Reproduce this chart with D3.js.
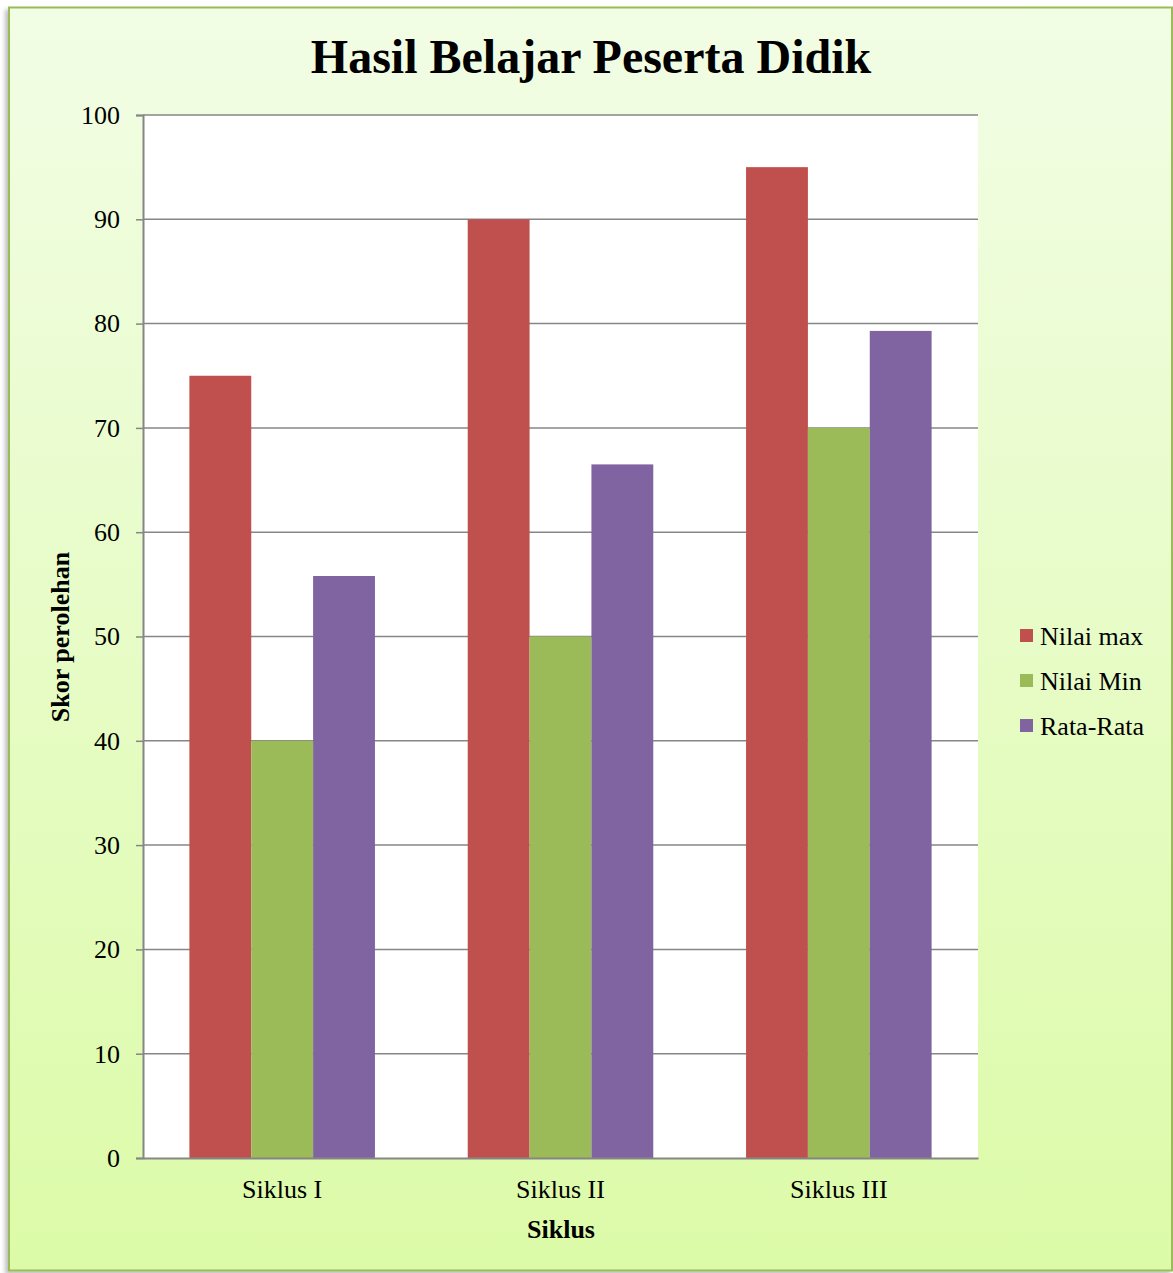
<!DOCTYPE html>
<html>
<head>
<meta charset="utf-8">
<script src="https://cdn.jsdelivr.net/npm/d3@7"></script>
<style>
  body { margin: 0; background: #fff; }
  svg { display: block; font-family: "Liberation Serif", "Times New Roman", serif; }
</style>
</head>
<body>
<div id="chart"></div>
<script>
// data
var categories = ["Siklus I", "Siklus II", "Siklus III"];
var seriesNames = ["Nilai max", "Nilai Min", "Rata-Rata"];
var nilaiMax = [75, 90, 95];
var nilaiMin = [40, 50, 70];
var rataRata = [55.8, 66.5, 79.3];
var yTicks = [0, 10, 20, 30, 40, 50, 60, 70, 80, 90, 100];
var colors = ["#c0504d", "#9bbb59", "#8064a2"];

var W = 1173, H = 1273;
var plot = { left: 143, top: 115, right: 978, bottom: 1158 };
var fontFam = "Liberation Serif, Times New Roman, serif";

var svg = d3.select("#chart").append("svg")
    .attr("width", W)
    .attr("height", H);

var defs = svg.append("defs");
var grad = defs.append("linearGradient")
    .attr("id", "bg")
    .attr("x1", 0).attr("y1", 0).attr("x2", 0).attr("y2", 1);
grad.append("stop").attr("offset", "0%").attr("stop-color", "#f2fde5");
grad.append("stop").attr("offset", "100%").attr("stop-color", "#dcfba8");

var shadow = defs.append("filter").attr("id", "shadow")
    .attr("x", "-5%").attr("y", "-5%").attr("width", "110%").attr("height", "110%");
shadow.append("feDropShadow")
    .attr("dx", -3).attr("dy", 3).attr("stdDeviation", 2)
    .attr("flood-color", "#000").attr("flood-opacity", 0.25);

// chart frame
svg.append("rect")
    .attr("x", 9).attr("y", 7.5)
    .attr("width", 1163).attr("height", 1263)
    .attr("fill", "url(#bg)")
    .attr("stroke", "#9bbb59")
    .attr("stroke-width", 2)
    .attr("filter", "url(#shadow)");

// plot area
svg.append("rect")
    .attr("x", plot.left).attr("y", plot.top)
    .attr("width", plot.right - plot.left)
    .attr("height", plot.bottom - plot.top)
    .attr("fill", "#fff");

var x0 = d3.scaleBand()
    .domain(categories)
    .range([plot.left, plot.right])
    .padding(0);

// gap width 150% of a bar -> 0.75 bar on each side
var x1 = d3.scaleBand()
    .domain(seriesNames)
    .range([0, x0.bandwidth()])
    .paddingInner(0)
    .paddingOuter(0.75);

var y = d3.scaleLinear()
    .domain([0, 100])
    .range([plot.bottom, plot.top]);

// gridlines
svg.append("g")
    .selectAll("line")
    .data(yTicks.filter(function(d) { return d > 0; }))
    .enter().append("line")
    .attr("x1", plot.left).attr("x2", plot.right)
    .attr("y1", function(d) { return y(d); })
    .attr("y2", function(d) { return y(d); })
    .attr("stroke", "#868686")
    .attr("stroke-width", 1.5);

// bars
var values = [nilaiMax, nilaiMin, rataRata];
var rows = [];
categories.forEach(function(c, i) {
    seriesNames.forEach(function(s, j) {
        rows.push({ cat: c, series: s, value: values[j][i], color: colors[j] });
    });
});

svg.append("g")
    .selectAll("rect")
    .data(rows)
    .enter().append("rect")
    .attr("x", function(d) { return x0(d.cat) + x1(d.series); })
    .attr("y", function(d) { return y(d.value); })
    .attr("width", x1.bandwidth())
    .attr("height", function(d) { return plot.bottom - y(d.value); })
    .attr("fill", function(d) { return d.color; });

// y axis
var yAxis = svg.append("g")
    .attr("transform", "translate(" + plot.left + ",0)")
    .call(d3.axisLeft(y).tickValues(yTicks).tickSize(7).tickPadding(16));
yAxis.select(".domain").attr("stroke", "#868686").attr("stroke-width", 2);
yAxis.selectAll(".tick line").attr("stroke", "#868686").attr("stroke-width", 1.5);
yAxis.selectAll("text")
    .attr("font-family", fontFam)
    .attr("font-size", 26)
    .attr("fill", "#000");

// x axis
var xAxis = svg.append("g")
    .attr("transform", "translate(0," + plot.bottom + ")")
    .call(d3.axisBottom(x0).tickSize(0).tickPadding(22));
xAxis.select(".domain").attr("stroke", "#868686").attr("stroke-width", 2);
xAxis.selectAll("text")
    .attr("font-family", fontFam)
    .attr("font-size", 26)
    .attr("fill", "#000");

// titles
svg.append("text")
    .attr("x", 591).attr("y", 73)
    .attr("text-anchor", "middle")
    .attr("font-size", 48)
    .attr("font-weight", "bold")
    .text("Hasil Belajar Peserta Didik");

svg.append("text")
    .attr("x", 561).attr("y", 1238)
    .attr("text-anchor", "middle")
    .attr("font-size", 26)
    .attr("font-weight", "bold")
    .text("Siklus");

svg.append("text")
    .attr("transform", "translate(69,637) rotate(-90)")
    .attr("text-anchor", "middle")
    .attr("font-size", 26)
    .attr("font-weight", "bold")
    .text("Skor perolehan");

// legend
var legend = svg.append("g")
    .selectAll("g")
    .data(seriesNames)
    .enter().append("g")
    .attr("transform", function(d, i) { return "translate(1020," + (636 + i * 45) + ")"; });
legend.append("rect")
    .attr("x", 0).attr("y", -7)
    .attr("width", 13).attr("height", 13)
    .attr("fill", function(d, i) { return colors[i]; });
legend.append("text")
    .attr("x", 20).attr("y", 9)
    .attr("font-size", 26)
    .text(function(d) { return d; });
</script>
</body>
</html>
